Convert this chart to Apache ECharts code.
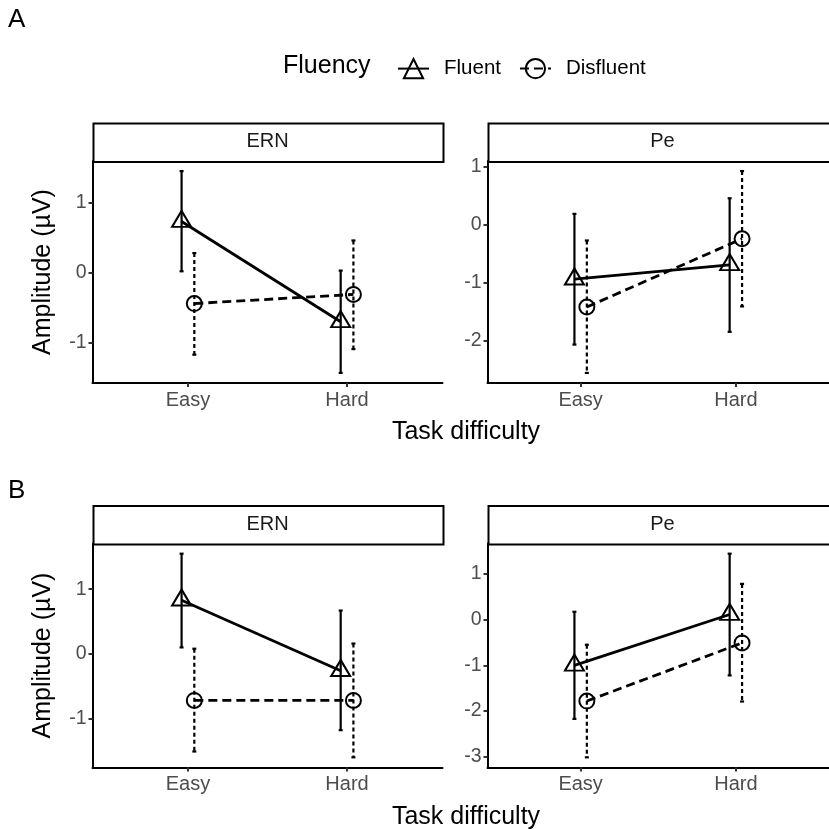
<!DOCTYPE html>
<html>
<head>
<meta charset="utf-8">
<script src="https://cdn.jsdelivr.net/npm/echarts@6/dist/echarts.min.js"></script>
<style>
html, body { margin: 0; padding: 0; background: #fff; }
#chart { width: 829px; height: 830px; }
</style>
</head>
<body>
<div id="chart"></div>
<script>
var difficulty = ["Easy", "Hard"];
var facets = ["ERN", "Pe"];
var fluency = ["Fluent", "Disfluent"];
var rowLabels = ["A", "B"];

// [mean, lower, upper] for Easy, Hard
var aErnFluent = [[0.73, 0.02, 1.45], [-0.70, -1.43, 0.03]];
var aErnDisfluent = [[-0.44, -1.17, 0.28], [-0.31, -1.09, 0.46]];
var aPeFluent = [[-0.94, -2.07, 0.19], [-0.69, -1.85, 0.46]];
var aPeDisfluent = [[-1.42, -2.56, -0.27], [-0.24, -1.41, 0.93]];
var bErnFluent = [[0.83, 0.10, 1.55], [-0.26, -1.18, 0.67]];
var bErnDisfluent = [[-0.72, -1.51, 0.08], [-0.72, -1.60, 0.16]];
var bPeFluent = [[-1.00, -2.17, 0.17], [0.11, -1.22, 1.44]];
var bPeDisfluent = [[-1.78, -3.01, -0.55], [-0.51, -1.79, 0.78]];

var panels = [
    { row: 0, col: 0, fluent: aErnFluent, disfluent: aErnDisfluent },
    { row: 0, col: 1, fluent: aPeFluent, disfluent: aPeDisfluent },
    { row: 1, col: 0, fluent: bErnFluent, disfluent: bErnDisfluent },
    { row: 1, col: 1, fluent: bPeFluent, disfluent: bPeDisfluent }
];

var FONT = "Liberation Sans, Arial, Helvetica, sans-serif";
var rowTop = [161, 543.5], rowHeight = [222, 224];
var colLeft = [92.5, 487.5], colWidth = 350;
var stripH = 38.5;
var dodge = 0.04;

function errRender(dash) {
    return function (params, api) {
        var x = api.value(0);
        var pTop = api.coord([x, api.value(2)]);
        var pBot = api.coord([x, api.value(1)]);
        var cap = 2;
        var st = { stroke: "#000", lineWidth: 2.2 };
        if (dash) st.lineDash = dash;
        return {
            type: "group",
            children: [
                { type: "line", shape: { x1: pTop[0], y1: pTop[1], x2: pBot[0], y2: pBot[1] }, style: st },
                { type: "line", shape: { x1: pTop[0] - cap, y1: pTop[1], x2: pTop[0] + cap, y2: pTop[1] }, style: { stroke: "#000", lineWidth: 2.2 } },
                { type: "line", shape: { x1: pBot[0] - cap, y1: pBot[1], x2: pBot[0] + cap, y2: pBot[1] }, style: { stroke: "#000", lineWidth: 2.2 } }
            ]
        };
    };
}

var grids = [], xAxes = [], yAxes = [], seriesList = [], graphics = [];

for (var i = 0; i < panels.length; i++) {
    var p = panels[i];
    var all = p.fluent.concat(p.disfluent);
    var lo = Math.min.apply(null, all.map(function (d) { return d[1]; }));
    var hi = Math.max.apply(null, all.map(function (d) { return d[2]; }));
    var pad = (hi - lo) * 0.05;
    var ymin = lo - pad, ymax = hi + pad;
    var ticks = [];
    for (var t = Math.ceil(ymin); t <= Math.floor(ymax); t++) ticks.push(t);

    var gLeft = colLeft[p.col], gTop = rowTop[p.row], gH = rowHeight[p.row];
    grids.push({ left: gLeft, top: gTop, width: colWidth, height: gH });

    xAxes.push({
        type: "value", gridIndex: i, min: 0.4, max: 2.6,
        axisLine: { show: true, onZero: false, lineStyle: { color: "#000", width: 2 } },
        axisTick: { show: true, customValues: [1, 2], length: 4, lineStyle: { color: "#333", width: 2 } },
        axisLabel: {
            customValues: [1, 2], color: "#4d4d4d", fontSize: 20, fontFamily: FONT, margin: 7,
            formatter: function (v) { return difficulty[Math.round(v) - 1] || ""; }
        },
        splitLine: { show: false }
    });
    yAxes.push({
        type: "value", gridIndex: i, min: ymin, max: ymax,
        axisLine: { show: true, onZero: false, lineStyle: { color: "#000", width: 2 } },
        axisTick: { show: true, customValues: ticks, length: 4, lineStyle: { color: "#333", width: 2 } },
        axisLabel: { customValues: ticks, color: "#4d4d4d", fontSize: 19.5, fontFamily: FONT, margin: 6 },
        splitLine: { show: false },
        name: p.col === 0 ? "Amplitude (\u00b5V)" : "",
        nameLocation: "middle", nameGap: 37,
        nameTextStyle: { fontSize: 25, color: "#000", fontFamily: FONT }
    });

    seriesList.push({
        name: fluency[0], type: "line", xAxisIndex: i, yAxisIndex: i, z: 2,
        data: p.fluent.map(function (d, k) { return [k + 1 - dodge, d[0]]; }),
        symbol: "triangle", symbolSize: [19, 16], symbolOffset: [0, -2.7],
        itemStyle: { color: "transparent", borderColor: "#000", borderWidth: 2 },
        lineStyle: { color: "#000", width: 2.8, type: "solid" }
    });
    seriesList.push({
        name: fluency[1], type: "line", xAxisIndex: i, yAxisIndex: i, z: 2,
        data: p.disfluent.map(function (d, k) { return [k + 1 + dodge, d[0]]; }),
        symbol: "circle", symbolSize: 15,
        itemStyle: { color: "transparent", borderColor: "#000", borderWidth: 2 },
        lineStyle: { color: "#000", width: 2.8, type: [9, 5] }
    });
    seriesList.push({
        name: "err-fluent", type: "custom", xAxisIndex: i, yAxisIndex: i, z: 3,
        data: p.fluent.map(function (d, k) { return [k + 1 - dodge, d[1], d[2]]; }),
        encode: { x: 0, y: [1, 2] },
        renderItem: errRender(null)
    });
    seriesList.push({
        name: "err-disfluent", type: "custom", xAxisIndex: i, yAxisIndex: i, z: 3,
        data: p.disfluent.map(function (d, k) { return [k + 1 + dodge, d[1], d[2]]; }),
        encode: { x: 0, y: [1, 2] },
        renderItem: errRender([4, 3])
    });

    // facet strip
    graphics.push({
        type: "rect", left: gLeft, top: gTop - stripH, z: 10,
        shape: { width: colWidth, height: stripH },
        style: { fill: "#fff", stroke: "#000", lineWidth: 2 }
    });
    graphics.push({
        type: "text", x: gLeft + colWidth / 2, y: gTop - stripH / 2, z: 11,
        style: { text: facets[p.col], fontSize: 20, fontFamily: FONT, fill: "#1a1a1a", align: "center", verticalAlign: "middle" }
    });
}

for (var r = 0; r < 2; r++) {
    graphics.push({
        type: "text", x: 8, y: r === 0 ? 20 : 491,
        style: { text: rowLabels[r], fontSize: 26, fontFamily: FONT, fill: "#000", verticalAlign: "middle" }
    });
    graphics.push({
        type: "text", x: 466, y: r === 0 ? 432 : 817,
        style: { text: "Task difficulty", fontSize: 25, fontFamily: FONT, fill: "#000", align: "center", verticalAlign: "middle" }
    });
}
graphics.push({
    type: "text", x: 283, y: 66,
    style: { text: "Fluency", fontSize: 25, fontFamily: FONT, fill: "#000", verticalAlign: "middle" }
});

var chart = echarts.init(document.getElementById("chart"));
chart.setOption({
    animation: false,
    backgroundColor: "#fff",
    legend: {
        data: fluency, left: 392, top: 53, orient: "horizontal",
        itemWidth: 31, itemHeight: 24, itemGap: 18,
        textStyle: { fontSize: 20.5, fontFamily: FONT, color: "#000", padding: [0, 0, 0, 10] }
    },
    grid: grids,
    xAxis: xAxes,
    yAxis: yAxes,
    series: seriesList,
    graphic: graphics
});
</script>
</body>
</html>
